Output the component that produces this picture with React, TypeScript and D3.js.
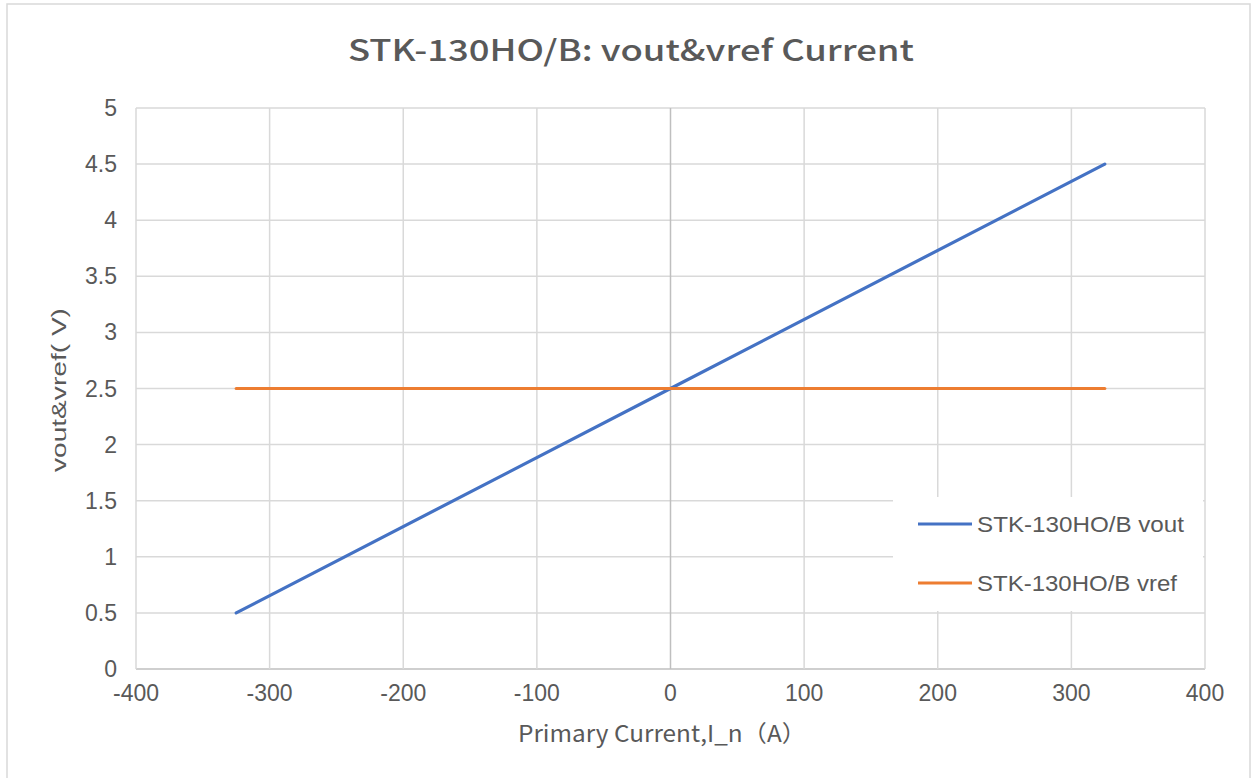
import React, { useRef, useEffect } from 'react';
import * as d3 from 'd3';

const current = [-325, 0, 325];
const vout = [0.5, 2.5, 4.5];
const vref = [2.5, 2.5, 2.5];
const xTicks = [-400, -300, -200, -100, 0, 100, 200, 300, 400];
const yTicks = [0, 0.5, 1, 1.5, 2, 2.5, 3, 3.5, 4, 4.5, 5];
const seriesNames = ['STK-130HO/B vout', 'STK-130HO/B vref'];
const seriesColors = ['#4472C4', '#ED7D31'];

const W = 1253;
const H = 778;
const textColor = '#595959';
const font = '"Liberation Sans", Arial, sans-serif';

const App = () => {
  const svgRef = useRef<SVGSVGElement>(null);

  useEffect(() => {
    const svg = d3.select(svgRef.current);
    svg.selectAll('*').remove();

    const x = d3.scaleLinear().domain([-400, 400]).range([136, 1205]);
    const y = d3.scaleLinear().domain([0, 5]).range([669, 108]);

    // outer chart frame
    svg.append('rect')
      .attr('x', 7).attr('y', 4)
      .attr('width', 1243).attr('height', 780)
      .attr('fill', '#fff')
      .attr('stroke', '#d9d9d9')
      .attr('stroke-width', 1.5);

    // title
    svg.append('text')
      .attr('x', 631).attr('y', 61)
      .attr('text-anchor', 'middle')
      .attr('font-family', '"Noto Sans CJK SC", "Noto Sans", sans-serif')
      .attr('font-size', 29)
      .attr('font-weight', 500)
      .attr('fill', textColor)
      .attr('textLength', 566)
      .attr('lengthAdjust', 'spacingAndGlyphs')
      .text('STK-130HO/B: vout&vref Current');

    const grid = svg.append('g');
    grid.selectAll('line.h')
      .data(yTicks)
      .join('line')
      .attr('class', 'h')
      .attr('x1', x(-400)).attr('x2', x(400))
      .attr('y1', d => y(d)).attr('y2', d => y(d))
      .attr('stroke', d => (d === 0 ? '#bfbfbf' : '#d9d9d9'))
      .attr('stroke-width', 1.5);
    grid.selectAll('line.v')
      .data(xTicks)
      .join('line')
      .attr('class', 'v')
      .attr('x1', d => x(d)).attr('x2', d => x(d))
      .attr('y1', y(0)).attr('y2', y(5))
      .attr('stroke', d => (d === 0 ? '#bfbfbf' : '#d9d9d9'))
      .attr('stroke-width', 1.5);

    // y tick labels
    svg.append('g').selectAll('text')
      .data(yTicks)
      .join('text')
      .attr('x', 117)
      .attr('y', d => y(d) + 8)
      .attr('text-anchor', 'end')
      .attr('font-family', font)
      .attr('font-size', 23)
      .attr('fill', textColor)
      .text(d => String(d));

    // x tick labels
    svg.append('g').selectAll('text')
      .data(xTicks)
      .join('text')
      .attr('x', d => x(d))
      .attr('y', 701)
      .attr('text-anchor', 'middle')
      .attr('font-family', font)
      .attr('font-size', 23)
      .attr('fill', textColor)
      .text(d => String(d));

    // axis titles
    svg.append('text')
      .attr('x', 662).attr('y', 742)
      .attr('text-anchor', 'middle')
      .attr('font-family', '"Noto Sans CJK SC", "Noto Sans", sans-serif')
      .attr('font-size', 23)
      .attr('fill', textColor)
      .attr('textLength', 288)
      .attr('lengthAdjust', 'spacingAndGlyphs')
      .text('Primary Current,I_n（A）');

    svg.append('text')
      .attr('transform', 'translate(66,390) rotate(-90)')
      .attr('text-anchor', 'middle')
      .attr('font-family', font)
      .attr('font-size', 21)
      .attr('fill', textColor)
      .attr('textLength', 164)
      .attr('lengthAdjust', 'spacingAndGlyphs')
      .text('vout&vref( V)');

    // series
    const pts = (vals: number[]) => current.map((c, i) => [c, vals[i]] as [number, number]);
    const line = d3.line<[number, number]>().x(d => x(d[0])).y(d => y(d[1]));
    [vout, vref].forEach((vals, i) => {
      svg.append('path')
        .attr('d', line(pts(vals)))
        .attr('fill', 'none')
        .attr('stroke', seriesColors[i])
        .attr('stroke-width', 3.2)
        .attr('stroke-linecap', 'round');
    });

    // legend
    const legend = svg.append('g');
    legend.append('rect')
      .attr('x', 893).attr('y', 497)
      .attr('width', 310).attr('height', 114)
      .attr('fill', '#fff');
    const labelWidths = [207, 200];
    seriesNames.forEach((name, i) => {
      const ly = 524 + i * 59;
      legend.append('line')
        .attr('x1', 918).attr('x2', 972)
        .attr('y1', ly).attr('y2', ly)
        .attr('stroke', seriesColors[i])
        .attr('stroke-width', 3.2);
      legend.append('text')
        .attr('x', 977).attr('y', ly + 8)
        .attr('font-family', font)
        .attr('font-size', 22)
        .attr('fill', textColor)
        .attr('textLength', labelWidths[i])
        .attr('lengthAdjust', 'spacingAndGlyphs')
        .text(name);
    });
  }, []);

  return (
    <svg
      ref={svgRef}
      width={W}
      height={H}
      style={{ position: 'absolute', left: 0, top: 0, display: 'block', background: '#fff' }}
    />
  );
};

export default App;
